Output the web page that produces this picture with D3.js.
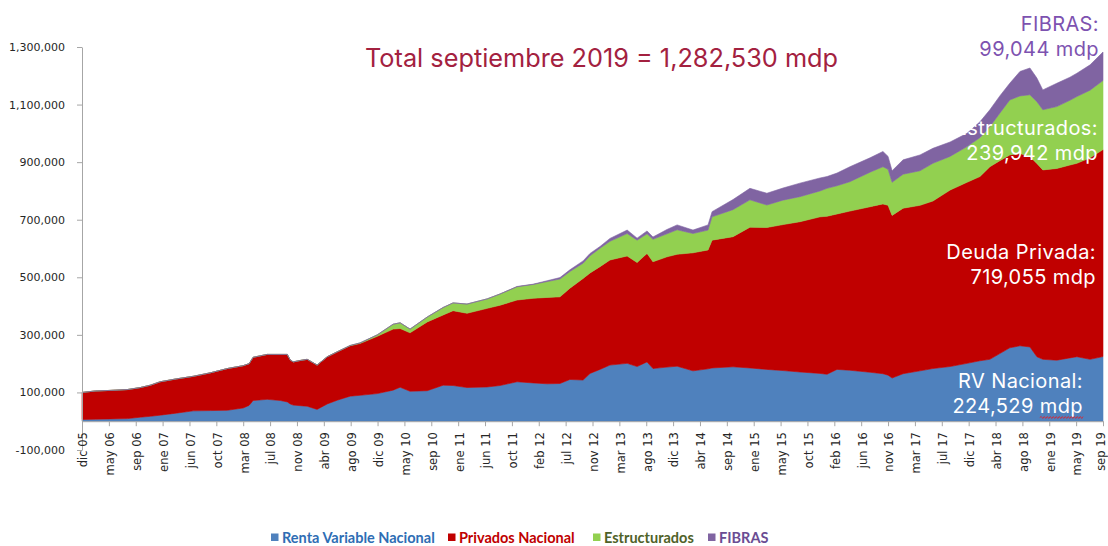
<!DOCTYPE html>
<html><head><meta charset="utf-8">
<script src="https://cdn.jsdelivr.net/npm/d3@7"></script>
<style>body{margin:0;background:#fff} svg{display:block}</style>
</head><body>
<svg id="chart" width="1108" height="546"></svg>
<script>
// ---------------- DATA ----------------
const xTickLabels = ["dic 05","may 06","sep 06","ene 07","jun 07","oct 07","mar 08","jul 08","nov 08","abr 09","ago 09","dic 09","may 10","sep 10","ene 11","jun 11","oct 11","feb 12","jul 12","nov 12","mar 13","ago 13","dic 13","abr 14","sep 14","ene 15","may 15","oct 15","feb 16","jun 16","nov 16","mar 17","jul 17","dic 17","abr 18","ago 18","ene 19","may 19","sep 19"];
// sample positions, in x-tick units (0 = dic 05, 38 = sep 19)
const t = [0,0.49,1.05,1.69,2.17,2.54,2.91,3.51,4.14,4.77,5.41,6.0,6.22,6.37,6.89,7.38,7.64,7.75,7.86,8.12,8.38,8.75,9.13,9.5,9.98,10.35,10.99,11.58,11.84,12.21,12.85,13.44,13.81,14.33,15.08,15.56,16.19,16.79,17.31,17.79,18.16,18.65,18.91,19.28,19.65,20.29,20.66,21.03,21.25,21.77,22.15,22.74,23.3,23.45,24.23,24.86,25.49,26.09,26.72,27.47,27.73,28.1,28.58,29.33,29.81,30.0,30.15,30.56,31.19,31.67,32.31,32.94,33.42,33.79,34.16,34.53,34.91,35.28,35.54,35.76,36.28,36.77,37.03,37.52,38];
// values in thousands of mdp
const rvNacional = [6,7,8,9,14,17,21,28,36,37,38,46,55,72,76,72,67,60,56,54,52,41,60,73,87,90,96,108,118,104,106,125,124,117,119,124,137,133,130,131,145,143,166,180,195,201,190,206,183,188,191,175,182,185,189,185,180,176,171,166,163,180,177,170,165,160,150,165,175,183,190,201,210,215,235,255,262,258,224,215,212,220,224,215,224.529];
const privadosNacional = [94,98,99,101,103,108,116,119,120,131,145,147,145,150,156,160,165,153,150,157,163,154,164,168,175,180,199,212,204,203,239,244,260,258,273,279,284,294,300,301,317,353,349,357,365,373,361,377,371,383,389,410,413,444,452,489,493,507,522,544,549,540,553,575,590,590,565,575,575,582,613,629,640,669,670,670,668,662,671,658,666,670,672,700,719.055];
const estructurados = [0,0,0,0,0,0,0,0,0,0,0,0,0,0,0,0,0,0,0,0,0,0,0,0,1,2,5,17,20,13,17,26,27,32,33,39,46,48,55,62,58,53,60,64,65,78,78,68,78,80,85,67,69,81,94,95,78,85,87,90,97,98,102,120,129,125,115,118,120,131,117,124,135,139,165,191,200,214,215,209,215,225,232,235,239.942];
const fibras = [0,0,0,0,0,0,0,0,0,0,0,0,0,0,0,0,0,0,0,0,0,0,0,0,0,0,0,0,0,0,0,0,0,0,0,0,1,1,3,5,6,8,8,6,10,12,7,10,8,15,17,12,18,18,35,40,41,42,47,45,41,44,52,50,53,45,40,50,55,52,50,46,55,59,60,58,85,93,82,69,81,80,81,88,99.044];
const yTicks = [-100000,100000,300000,500000,700000,900000,1100000,1300000];
const seriesKeys = ["rv","dp","es","fb"];
const seriesNames = ["Renta Variable Nacional","Privados Nacional","Estructurados","FIBRAS"];
const annotationLines = [["FIBRAS:","99,044 mdp"],["Estructurados:","239,942 mdp"],["Deuda Privada:","719,055 mdp"],["RV Nacional:","224,529 mdp"]];
const titleText = "Total septiembre 2019 = 1,282,530 mdp";

// ---------------- STYLE ----------------
const colors = ["#4F81BD","#C00000","#92D050","#8064A2"];
const legendTextColors = ["#2E6DB4","#C00000","#4F6228","#6A4C93"];

const svg = d3.select("#chart");
const x = d3.scaleLinear().domain([0,38]).range([82,1103]);
const y = d3.scaleLinear().domain([-100000,1300000]).range([450,47]);

const rows = t.map((v,i)=>({t:v, rv:rvNacional[i]*1000, dp:privadosNacional[i]*1000, es:estructurados[i]*1000, fb:fibras[i]*1000}));
const stack = d3.stack().keys(seriesKeys)(rows);
const area = d3.area().x(d=>x(d.data.t)).y0(d=>y(d[0])).y1(d=>y(d[1]));

svg.append("g").selectAll("path").data(stack).join("path")
  .attr("d",area).attr("fill",(d,i)=>colors[i]).attr("stroke",(d,i)=>colors[i]).attr("stroke-width",0.6);

const fmt = d3.formatLocale({decimal:".",thousands:",",grouping:[3],currency:["$",""],minus:"-"}).format(",");
const axisColor = "#A6A6A6";

const yAxis = svg.append("g").attr("transform","translate(82,0)")
  .call(d3.axisLeft(y).tickValues(yTicks).tickFormat(fmt).tickSize(5).tickPadding(12).tickSizeOuter(0));
yAxis.select(".domain").attr("stroke",axisColor);
yAxis.selectAll(".tick line").attr("stroke",axisColor);
yAxis.selectAll("text").attr("font-family","DejaVu Sans").attr("font-size",11).attr("fill","#262626");

const xAxis = svg.append("g").attr("transform",`translate(0,${y(0)})`)
  .call(d3.axisBottom(x).tickValues(d3.range(xTickLabels.length)).tickFormat(i=>xTickLabels[i]).tickSize(5).tickSizeOuter(0));
xAxis.select(".domain").attr("stroke",axisColor);
xAxis.selectAll(".tick line").attr("stroke",axisColor);
xAxis.selectAll("text")
  .attr("font-family","DejaVu Sans").attr("font-size",11.5).attr("fill","#262626")
  .attr("transform","rotate(-90)").attr("text-anchor","end")
  .attr("x",-11).attr("y",(d,i)=> i===xTickLabels.length-1 ? -3 : 0).attr("dy","0.42em");

// title
svg.append("text").attr("x",365).attr("y",67).text(titleText)
  .attr("font-family","Inter").attr("font-weight",400).attr("font-size",25).attr("fill","#A3213F")
  .attr("textLength",473).attr("lengthAdjust","spacingAndGlyphs");

// annotations (two lines each)
const annSpec = [
  {right:1099, base:31, color:"#7D52B0"},
  {right:1098, base:135, color:"#FFFFFF"},
  {right:1096, base:259, color:"#FFFFFF"},
  {right:1083, base:388, color:"#FFFFFF"}
];
const lineGap = 24.5;
annotationLines.forEach((lines,k)=>{
  const el = svg.append("text").attr("y",annSpec[k].base).attr("text-anchor","end")
    .attr("font-family","Inter").attr("font-weight",400).attr("font-size",20)
    .attr("letter-spacing",0.4)
    .attr("fill",annSpec[k].color);
  lines.forEach((ln,j)=>{
    el.append("tspan").attr("x",annSpec[k].right).attr("dy", j===0 ? 0 : lineGap).text(ln);
  });
  if(k===3){
    const node = el.node();
    const full = lines[0].length + lines[1].length;
    const w = node.getSubStringLength(full-3,3);
    const x1 = annSpec[k].right, x0 = x1 - w, yy = annSpec[k].base + lineGap + 5;
    let p = `M${x0},${yy}`;
    for(let xx=x0, up=true; xx < x1; xx+=1.5, up=!up){ p += `L${Math.min(xx+1.5,x1)},${yy+(up?-1:1)}`; }
    svg.append("path").attr("d",p).attr("fill","none").attr("stroke","#E0202A").attr("stroke-width",0.8);
  }
});

// legend
const legX = [271,448,593,708];
const lg = svg.append("g");
seriesNames.forEach((name,i)=>{
  lg.append("rect").attr("x",legX[i]).attr("y",533.5).attr("width",7.5).attr("height",7.5).attr("fill",colors[i]);
  lg.append("text").attr("x",legX[i]+11).attr("y",543).text(name)
    .attr("font-family","Lato").attr("font-weight",700).attr("font-size",14.5).attr("fill",legendTextColors[i]);
});
</script>
</body></html>
